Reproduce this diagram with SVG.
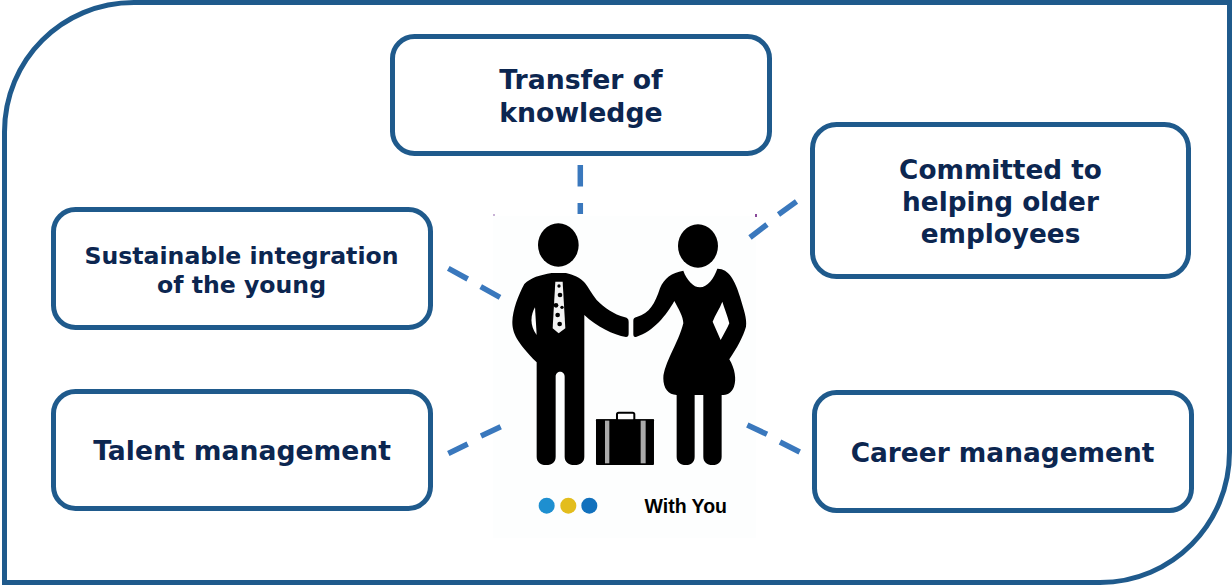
<svg xmlns="http://www.w3.org/2000/svg" width="1232" height="585" viewBox="0 0 1232 585">
<style>
.box{fill:#fff;stroke:#1f5a8c;stroke-width:5}
.t{font-family:"DejaVu Sans",Verdana,sans-serif;font-weight:700;fill:#0c2650;text-anchor:middle}
.c{fill:none;stroke:#3a78bd;stroke-width:5.500}
.k{fill:#000}
</style>
<rect width="1232" height="585" fill="#fff"/>
<path id="frame" d="M4.500 582.500V132C4.500 60 62 2.500 134 2.500H1229.500V452C1229.500 524 1172 582.500 1100 582.500Z" fill="#fff" stroke="#1f5a8c" stroke-width="5"/>
<g id="n-transfer"><rect class="box" x="392.500" y="36.500" width="377" height="117" rx="22"/>
<text class="t" font-size="26.700" x="581" y="89">Transfer of</text><text class="t" font-size="26.700" x="581" y="122">knowledge</text></g>
<g id="n-committed"><rect class="box" x="812.500" y="124.500" width="376" height="152" rx="24"/>
<text class="t" font-size="26.300" x="1000.500" y="179">Committed to</text><text class="t" font-size="26.300" x="1000.500" y="211">helping older</text><text class="t" font-size="26.300" x="1000.500" y="243">employees</text></g>
<g id="n-sustainable"><rect class="box" x="53.500" y="209.500" width="377" height="118" rx="22"/>
<text class="t" font-size="23.600" x="241.500" y="264">Sustainable integration</text><text class="t" font-size="23.600" x="241.500" y="293">of the young</text></g>
<g id="n-talent"><rect class="box" x="53.500" y="391.500" width="377" height="117" rx="22"/>
<text class="t" font-size="26.600" x="242" y="460">Talent management</text></g>
<g id="n-career"><rect class="box" x="814.500" y="392.500" width="377" height="118" rx="22"/>
<text class="t" font-size="26.400" x="1002.500" y="462">Career management</text></g>
<g id="n-center">
<rect x="493" y="216" width="263" height="322" fill="#fdfefe"/>
<rect x="493" y="214" width="2" height="2" fill="#c9b3d6"/><rect x="755" y="214" width="2" height="3" fill="#8a4a9a"/>
<g transform="translate(490 200) scale(.3333)">
<ellipse class="k" cx="205" cy="135" rx="61" ry="65"/>
<path class="k" d="M185 219C150 225 122 233 103 252C85 285 68 330 67 365C67 400 80 425 140 487V770C140 785 150 795 168 795C188 795 197 785 197 770V530C197 510 224 510 224 530V770C224 785 235 795 253 795C273 795 283 785 283 770V345C320 380 370 405 408 411C414 411 416 408 416 400V365C416 357 412 354 405 352C370 342 345 325 320 300C305 280 295 262 285 249C270 232 250 224 228 219Z"/>
<path fill="#fff" d="M135 322C122 345 118 375 140 405Z"/>
<path fill="#f2f2f2" d="M196 245H218L226 385L206 400L188 385Z"/>
<g class="k"><circle cx="207" cy="258" r="5"/><circle cx="210" cy="285" r="7"/><circle cx="198" cy="316" r="7"/><circle cx="216" cy="322" r="5"/><circle cx="203" cy="345" r="7"/><circle cx="209" cy="372" r="7"/></g>
<ellipse class="k" cx="624" cy="138" rx="60" ry="65"/>
<path class="k" d="M580 212C590 240 610 262 630 262C652 262 672 235 682 206C715 205 735 240 750 290C760 325 772 355 768 380C760 410 740 445 718 478C735 505 740 540 732 560C725 580 710 585 695 585V770C695 785 685 795 668 795C650 795 640 785 640 770V585H614V770C614 785 605 795 588 795C570 795 560 785 560 770V585C535 585 520 565 520 535C522 490 565 430 580 370C580 350 565 325 553 303C530 345 490 395 440 410C433 412 430 410 430 402V362C430 355 433 353 440 351C480 340 495 310 510 265C522 235 545 218 580 212Z"/>
<path fill="#fff" d="M697 305C690 325 675 345 668 365L692 420C700 405 712 385 718 370C712 345 703 325 697 305Z"/>
<rect class="k" x="318" y="658" width="174" height="137" rx="3"/>
<rect x="381" y="638" width="52" height="24" rx="5" fill="#fff" stroke="#000" stroke-width="6"/>
<rect x="318" y="658" width="174" height="6" fill="#000"/>
<rect x="345" y="662" width="13" height="128" fill="#aaa"/><rect x="452" y="662" width="15" height="128" fill="#aaa"/>
<circle cx="170" cy="917" r="24" fill="#1e8fd0"/><circle cx="235" cy="917" r="24" fill="#e3bd1d"/><circle cx="298" cy="917" r="24" fill="#1271bd"/>
</g>
<text x="644.500" y="513" font-family="'Liberation Sans',Arial,sans-serif" font-weight="700" font-size="19.500" fill="#000">With You</text>
</g>
<g id="connectors">
<path class="c" d="M580.300 165V186.500M580.300 203V214"/>
<path class="c" d="M796.500 201.500L778.500 214.500M767 224.500L750 237.500"/>
<path class="c" d="M448.300 268.300L467.700 279M480.700 286.700L500 297.300"/>
<path class="c" d="M448.300 453.500L467.700 444M481 436L500.700 426.700"/>
<path class="c" d="M799.700 452L780 442M767 434.300L747.300 425"/>
</g>
</svg>
